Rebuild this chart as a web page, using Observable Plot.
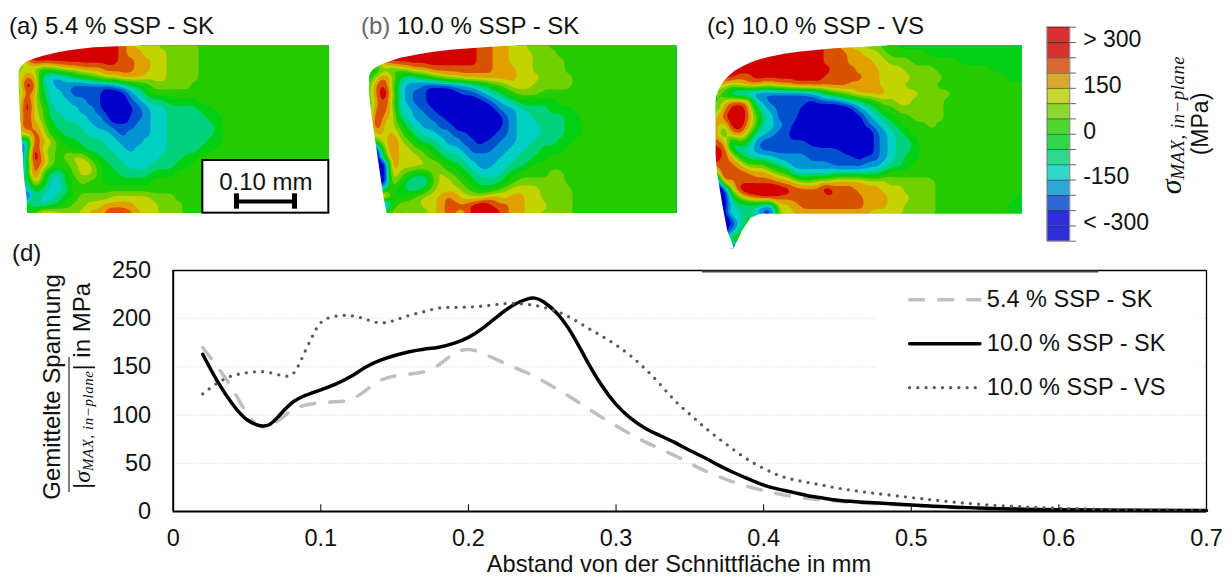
<!DOCTYPE html>
<html><head><meta charset="utf-8">
<script src="https://cdn.jsdelivr.net/npm/d3@7"></script>
<script src="https://cdn.jsdelivr.net/npm/@observablehq/plot@0.6"></script>
<style>
html,body{margin:0;padding:0;background:#fff}
#page{position:relative;width:1230px;height:578px;overflow:hidden;font-family:"Liberation Sans",Arial,sans-serif;color:#111}
.t{position:absolute;white-space:nowrap;font-size:24px;line-height:1}
.r{transform:translate(-50%,-50%) rotate(-90deg)}
.m{font-family:"Liberation Serif",serif;font-style:italic}
.m sub{font-size:.62em;vertical-align:-.18em;letter-spacing:.6px}
</style></head><body><div id="page"></div>
<script>
// ---- line chart data (distance in mm, averaged stress in MPa)
const dist54=[.02,.03,.04,.05,.06,.07,.08,.09,.1,.11,.12,.13,.14,.15,.16,.17,.18,.19,.2,.21,.22,.23,.24,.25,.26,.27,.28,.29,.3,.31,.32,.33,.34,.35,.36,.37,.38,.39,.4,.42,.44,.46,.5,.55,.6,.7];
const ssp54=[170,150,129,99,84,92,106,111,113,114,114,125,137,141,142.6,144,151,165,170,164,157,150,144,136,127,118,108,97.6,89,80,71.7,65,58,50,42,36,30,25.6,21.5,15,12,9.3,6,2.5,1.5,1];
const distSK=[.02,.03,.04,.05,.06,.065,.07,.08,.09,.1,.11,.12,.13,.14,.15,.16,.17,.18,.19,.2,.21,.22,.23,.24,.245,.25,.26,.27,.28,.29,.3,.31,.32,.33,.34,.35,.36,.37,.38,.39,.4,.41,.42,.43,.44,.45,.47,.5,.55,.6,.65,.7];
const ssp10SK=[163,134,111,93,88,89,96,114,121,126,132,139,150,157,162,166,168.6,170,174,180,190,203,214.7,221,222,219,207,186,156.5,130.5,110,96,85.5,78.6,71.7,63,56,47.4,40,33.6,27,23,20,16,14,11.4,9.5,6.6,3,1.7,1.2,1];
const distVS=[.02,.03,.04,.05,.06,.07,.08,.085,.09,.095,.1,.11,.12,.13,.14,.15,.16,.17,.18,.19,.2,.21,.22,.23,.24,.25,.26,.27,.28,.29,.3,.31,.32,.33,.34,.35,.36,.37,.38,.39,.4,.41,.42,.43,.44,.45,.47,.5,.52,.55,.6,.65,.7];
const ssp10VS=[122,134,141.6,144,146,142.6,138,151,168.6,184,199,203,204,200,194,198,204,207,212,211.6,212,213,215,216.4,215,212.6,207.8,200.8,191,182.5,173,161.7,148,132,114,101,87,75,63.7,52.6,44.7,37,33,30,27.4,24,19.7,14.5,11,6.6,3,1.7,1];
const xTicks=[0,.1,.2,.3,.4,.5,.6,.7];
const yTicks=[0,50,100,150,200,250];
const seriesNames=["5.4 % SSP - SK","10.0 % SSP - SK","10.0 % SSP - VS"];
const legendY=[219.6,174,128.5];

// ---- stress bands, MPa
const levels=[-300,-250,-200,-150,-100,-50,0,50,100,150,200,250,300];
const fieldColors=["#0000cc","#0000cc","#0050d0","#0094d4","#00d0c4","#00d27c","#00d014","#22cc00","#70d000","#c4d200","#e0a000","#d85200","#d40000","#d40000"];
const barColors=["#2f2fd8","#2f2fd8","#2f68d6","#2fa6d6","#2fd8c8","#2fd88a","#2fd84a","#4cd82f","#8cd82f","#c8d62f","#d8a82f","#d8682f","#d83030","#d83030"];
const barLabels=["> 300","150","0","-150","< -300"];
const barLabelValues=[300,150,0,-150,-300];

// ---- contour fields: one letter per sample, a = below -300 MPa ... n = above 300 MPa
const fieldA=[
"mmmmmmmmmmmmmlkjjjiiiiih",
"mmmmmmmmmmmmmlkkjjjiiiih",
"hkmmmmmmmmmmmllkkjjiiiih",
"ijighijjkkkllllkkjjiiiih",
"hlkfddefghijjkkkjjjiiiih",
"hnlfeddcccccdefghiiiiih",
"hlkgeedccccaabdegh",
"hnjheeeddccaaacdeffggggh",
"injifeeeddcbaabcdeeffffggh",
"imjiffeeeddcaaccdeefffffggh",
"jmkjgfffeeddcccddeeffffffgh",
"ikmjhgfffeeedcdddeeffffffgh",
"gdmkjhggfffeedddeeefffffggh",
"aenjihhggfffeedeeeeffffggh",
"agnkihijjhgffeeeeefffggh",
"afmkihhijjhgffeeefffggh",
"agmifegijjhggffffgggh",
"hdkheeghihhggggggh",
"hdgfeefh",
"hageefghiiiijjjjjiiih",
"hheefghiijjkkkkjjjiiih",
"hgillkjijkklmmlkjjiiih"];
const fieldB=[
"mmmmmmmmmmmmmmllkkjjiiih",
"mmmmmmmmmmmmmmllkkjjjiiih",
"iilmmmmmmmmmmmllkkjjjiiiih",
"hgihijkkllllllllkkkjjiiiih",
"gjljgefghijjkkkkkkkjjjiiiih",
"hlmieddccccddefghijjjiiiiih",
"hlnjedccaaabccdefghiiih",
"hkmiedccaaaaaabcdefgggggh",
"hlljeedccaaaaaaacddefffgggh",
"hmkjfeddccbaaaaaacdeeffffggh",
"imjjhfeddccbaaaaacdeeefffggh",
"ikjkigfeeddccbaaccdeeefffggh",
"ghjljigffeddccbccddeefffggh",
"aailjjihgfeedcccddeeffgggh",
"aahljjjihgffeddddeeffggh",
"aaaljjjjjiggfeddeeffgh",
"aaakihggijihgfeeefghhhhiih",
"aaajhfeehjjihgfffghiiiiiih",
"hhehgffgijjjihgghijjjjiiiih",
"hhmghhijjklkjjjkkjkkjjiiiih",
"hhahiiijjklllmnmllkkjjjiiih",
"hhhihihijklkkmnnmlkkjjiiiih"];
const fieldC=[
"mmmmmmmmmmmmmmllkjjiihhggggggggggggggggg",
"mmmmmmmmmmmmmmlllkkjjihhhhhggggggggggggg",
"mmmmmmmmmmmmmmlllkkkjjiiihhhhhhggggggggg",
"mmmmmmmmmmmmmmmlllkkkjjjiiiihhhhhhhggggg",
"mmmllmmmmmmmmmlllllkkjjjjiiiihhhhhhhhggg",
"kjijkkjjkklllllllkkkkjjjiiiih",
"ihecccccccccdeghijkkkkjjjjiiiih",
"hjllkedcccccbcccdefghiijjiiiih",
"hkmnlhedcccbaaaaabdefhhiiiiiih",
"jlnnlifecccaaaaaaabdefghhiiiih",
"kimnkieedcbaaaaaaaacdefghhhih",
"lgkljfedccaaaaaaaaaacdefgh",
"mkfigdccccccbaaaaaaacdeffgh",
"mmgeedccccccccccbaaacdeffgh",
"nlkhfeeeddddccccccbccdefggh",
"lklkiiigfedddddccccddeffgh",
"enlllkkjiheeeeeffffffgh",
"akklllllkkjiijjkkkkjjjiiiiiih",
"aaimnnnnnmllllnlllkkkjjjiiiih",
"aafiklmmlllllllllllkkkjjjiiihhhhhhhhhhgg",
"aaefffedjjkllllllllkkkjjiiiihhhhhhhhhggg",
"aafefebbjjkkkkkkkkkkjjjjiiiihhhhhhhhhggg",
"aabegh",
"aacfgh",
"aaghh",
"aahhh"];

// ---- specimen outlines (left/top edge of the section), in image units: 0.10 mm = 174 units
const edgeAx=[42,80,78,70,66,60,56,54,56,62,70,80,103,130,165,200,240,280,350,420,420,42];
const edgeAy=[651,640,590,530,450,370,300,220,208,197,189,182,173,165,157,150,145,140,137,135,120,120];
const edgeBx=[43,110,100,88,75,62,56,57,62,70,88,110,150,200,250,300,400,470,500,500,43];
const edgeBy=[651,640,590,510,420,330,270,225,214,205,194,185,172,162,154,148,140,136,135,120,120];
const edgeCx=[33,100,80,65,50,45,45,48,55,66,80,103,130,163,200,250,300,400,500,560,560,33];
const edgeCy=[760,742,690,610,520,460,300,285,265,247,230,210,195,181,170,160,153,143,138,135,120,120];
const tailCx=[100,125,150,180,1000,1000,100];
const tailCy=[742,690,652,640,640,760,760];

const page=document.getElementById("page");
const base={fontFamily:"'Liberation Sans',Arial,sans-serif",background:"transparent",overflow:"visible",position:"absolute"};
const colorScale={type:"threshold",domain:levels,range:fieldColors};
const samples=(rows,x0,y0)=>{
  const out=[];
  rows.forEach((r,j)=>{
    [...r.padEnd(40,"h")].forEach((c,i)=>out.push({x:x0+24*i,y:y0+24*j,v:-325+50*(c.charCodeAt(0)-97)}));
  });
  return out;
};
const polygon=(xs,ys)=>Plot.line(d3.range(xs.length),{x:i=>xs[i],y:i=>ys[i],fill:"#fff",stroke:"none"});
function panel({rows,left,top,w,h,x0,x1,y0,y1,masks,extra=[]}){
  return Plot.plot({
    width:w,height:h,margin:0,
    x:{domain:[x0,x1],range:[0,w],axis:null},
    y:{domain:[y0,y1],range:[0,h],axis:null},
    color:colorScale,
    style:{...base,left:left+"px",top:top+"px"},
    marks:[
      Plot.contour(samples(rows,x0,y0),{x:"x",y:"y",fill:"v",interpolate:"barycentric",pixelSize:2,blur:1,thresholds:[-350,...levels],clip:true}),
      ...masks.map(([a,b])=>polygon(a,b)),
      ...extra
    ]});
}
// ---- scale bar of panel (a)
const boxX=[607,985], boxY=[480,638], barX=[708,882], barYv=603, capY=[580,626];
const scaleMarks=[
  Plot.rect([0],{x1:boxX[0],x2:boxX[1],y1:boxY[0],y2:boxY[1],fill:"#fff",stroke:"#000",strokeWidth:2}),
  Plot.text(["0.10 mm"],{x:(boxX[0]+boxX[1])/2,y:545,text:d=>d,fontSize:24,fill:"#111"}),
  Plot.ruleY([barYv],{x1:barX[0],x2:barX[1],stroke:"#000",strokeWidth:4}),
  Plot.ruleX(barX,{y1:capY[0],y2:capY[1],stroke:"#000",strokeWidth:5})
];
page.append(panel({rows:fieldA,left:18,top:45,w:311,h:168,x0:54,x1:987,y0:135,y1:639,masks:[[edgeAx,edgeAy]],extra:scaleMarks}));
page.append(panel({rows:fieldB,left:368.3,top:45,w:308.4,h:168,x0:55,x1:980,y0:135,y1:639,masks:[[edgeBx,edgeBy]]}));
page.append(panel({rows:fieldC,left:715,top:45,w:306.7,h:203.3,x0:45,x1:965,y0:135,y1:745,masks:[[edgeCx,edgeCy],[tailCx,tailCy]]}));

// ---- colour bar
const barEdges=[-350,...levels,350];
const bands=d3.range(14);
page.append(Plot.plot({
  width:110,height:230,margin:0,
  x:{domain:[0,1],range:[6.7,29.3],axis:null},
  y:{domain:[-350,350],range:[220.7,6.7],axis:null},
  style:{...base,left:"1040px",top:"20px"},
  marks:[
    Plot.rect(bands,{x1:0,x2:1,y1:i=>barEdges[i],y2:i=>barEdges[i+1],fill:i=>barColors[i]}),
    Plot.ruleY(barEdges,{x1:0,x2:1,stroke:"#222",strokeOpacity:.6,strokeWidth:1}),
    Plot.ruleY(barEdges,{x1:1,x2:1.3,stroke:"#666",strokeWidth:1}),
    Plot.ruleX([0,1],{y1:-350,y2:350,stroke:"#777",strokeWidth:1}),
    Plot.text(barLabels,{x:1.59,y:(d,i)=>barLabelValues[i],dy:-3,text:d=>d,textAnchor:"start",fontSize:23,fill:"#111"})
  ]}));

// ---- line chart
const table=(xs,ys)=>xs.map((x,i)=>({x,y:ys[i]}));
const lines=[
  {data:table(dist54,ssp54),stroke:"#bfbfbf",strokeWidth:3.5,strokeDasharray:"14 15",strokeLinecap:"round"},
  {data:table(distSK,ssp10SK),stroke:"#000",strokeWidth:3.5,strokeLinecap:"round"},
  {data:table(distVS,ssp10VS),stroke:"#595959",strokeWidth:3.3,strokeDasharray:"0 8.2",strokeLinecap:"round"}
];
page.append(Plot.plot({
  width:1230,height:328,marginTop:20,marginBottom:67,marginLeft:172.7,marginRight:24,
  x:{domain:[0,.7]},y:{domain:[0,250]},
  style:{...base,left:"0",top:"250px"},
  marks:[
    Plot.ruleY([50,100,150,200],{stroke:"#c8c8c8",strokeWidth:1,strokeDasharray:"1 2"}),
    Plot.rect([0],{x1:.4775,x2:.6955,y1:120,y2:245,fill:"#fff"}),
    ...lines.map(l=>Plot.line(l.data,{x:"x",y:"y",curve:"basis",stroke:l.stroke,strokeWidth:l.strokeWidth,strokeDasharray:l.strokeDasharray,strokeLinecap:l.strokeLinecap})),
    ...lines.map((l,i)=>Plot.line([.4989,.5465],{x:d=>d,y:()=>legendY[i],stroke:l.stroke,strokeWidth:l.strokeWidth,strokeDasharray:l.strokeDasharray,strokeLinecap:l.strokeLinecap})),
    Plot.text(seriesNames,{x:.5512,y:(d,i)=>legendY[i],text:d=>d,textAnchor:"start",fontSize:23.5,fill:"#111"}),
    Plot.ruleX(xTicks.slice(1,-1),{y1:0,y2:7,stroke:"#000",strokeWidth:1}),
    Plot.ruleY([250],{x1:0,x2:.7,stroke:"#000",strokeWidth:1.3}),
    Plot.ruleY([250],{x1:.3585,x2:.627,dy:1,stroke:"#444",strokeWidth:2}),
    Plot.ruleX([.7],{y1:0,y2:250,stroke:"#000",strokeWidth:1.3}),
    Plot.ruleX([0],{y1:0,y2:250,stroke:"#000",strokeWidth:2}),
    Plot.ruleY([0],{x1:0,x2:.7,stroke:"#000",strokeWidth:2}),
    Plot.axisX({ticks:xTicks,tickSize:0,tickPadding:18,fontSize:23.5,label:null,tickFormat:d=>String(d)}),
    Plot.axisY({ticks:yTicks,tickSize:0,tickPadding:22,fontSize:23.5,label:null})
  ]}));

// ---- text around the plots
const addText=(html,x,y,cls="",css="")=>{
  const d=document.createElement("div");d.className="t "+cls;d.innerHTML=html;
  d.style.cssText=`left:${x}px;top:${y}px;${css}`;page.append(d);
};
addText("(a) 5.4 % SSP - SK",9,14);
addText('<span style="color:#666">(b)</span> 10.0 % SSP - SK',361,14);
addText("(c) 10.0 % SSP - VS",707,14);
addText("(d)",12,241);
addText("Abstand von der Schnittfläche in mm",679,553,"","transform:translateX(-50%);font-size:23.6px");
addText("Gemittelte Spannung",52,387,"r","font-size:24px");
addText('|<span class="m">σ<sub>MAX, in−plane</sub></span>| in MPa',83,386,"r","font-size:24px");
addText('<span class="m">σ<sub>MAX, in−plane</sub></span>',1172,125,"r","font-size:30px");
addText("(MPa)",1200,124,"r","font-size:23px");
const bar=document.createElement("div");
bar.style.cssText="position:absolute;left:68px;top:357px;width:2.4px;height:135px;background:#808080";
page.append(bar);
</script></body></html>
